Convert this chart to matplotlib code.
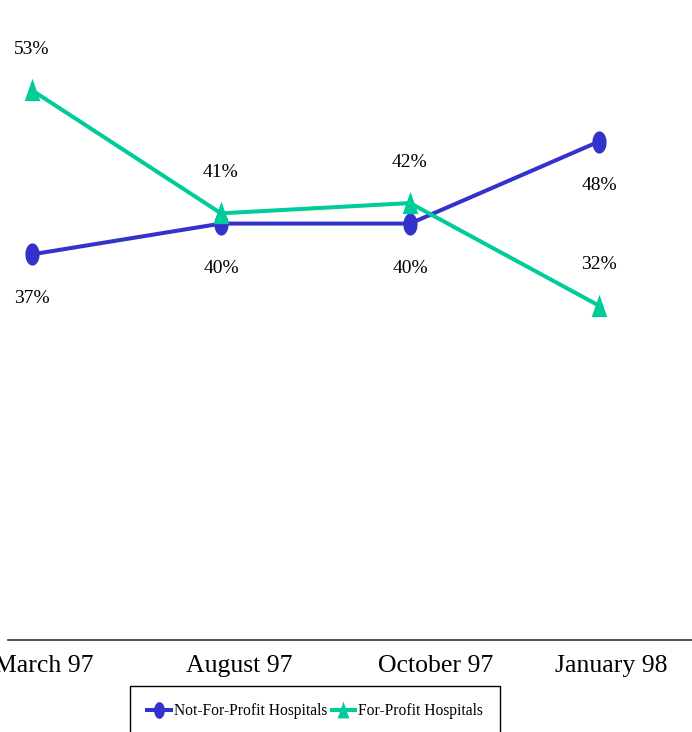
import numpy as np
import matplotlib.pyplot as plt
from matplotlib import transforms

# ---- data ----------------------------------------------------------------
periods = ["March 97", "August 97", "October 97", "January 98"]
not_for_profit = [37, 40, 40, 48]
for_profit = [53, 41, 42, 32]

BLUE = "#3333cc"
GREEN = "#00cc99"
INK = "#000000"
SERIF = ["Liberation Serif", "DejaVu Serif"]

plt.rcParams.update({
    "font.family": SERIF,
    "text.color": INK,
})

# tall ellipse and tall triangle markers
t = np.linspace(0, 2 * np.pi, 40)
ELLIPSE = list(zip(0.32 * np.cos(t), 0.5 * np.sin(t)))
TRIANGLE = [(-0.33, -0.45), (0.33, -0.45), (0.0, 0.5), (-0.33, -0.45)]

fig = plt.figure(figsize=(6.92, 7.32), dpi=100)
ax = fig.add_axes([8 / 692, 92 / 732, 1 - 8 / 692, 640 / 732])

x = np.arange(len(periods))
ax.plot(x, not_for_profit, color=BLUE, lw=2.9, marker=ELLIPSE,
        markersize=16, markeredgewidth=0, label="Not-For-Profit Hospitals",
        zorder=3)
ax.plot(x, for_profit, color=GREEN, lw=2.9, marker=TRIANGLE,
        markersize=17, markeredgewidth=0, label="For-Profit Hospitals",
        zorder=4)

for xi, v in zip(x, not_for_profit):
    ax.annotate(f"{v}%", xy=(xi, v), xytext=(0, -32), textcoords="offset points",
                ha="center", va="center", fontsize=14, annotation_clip=False)
for xi, v in zip(x, for_profit):
    ax.annotate(f"{v}%", xy=(xi, v), xytext=(0, 29.5), textcoords="offset points",
                ha="center", va="center", fontsize=14, annotation_clip=False)

ax.set_xlim(-24 / 189, (692 - 32) / 189)
ax.set_ylim(-0.6, 61.8)
ax.set_xticks(x)
ax.set_xticklabels(periods, fontsize=18.5)
ax.tick_params(axis="x", length=0, pad=11)
ax.set_yticks([])
for s in ("top", "right", "left"):
    ax.spines[s].set_visible(False)
ax.spines["bottom"].set_color("#333333")
ax.spines["bottom"].set_linewidth(1.2)

# tick labels sit a little right of the points
for lab, dx in zip(ax.get_xticklabels(), [12, 18, 26, 12]):
    shift = transforms.ScaledTranslation(dx / 100, 0, fig.dpi_scale_trans)
    lab.set_transform(lab.get_transform() + shift)

leg = fig.legend(loc="upper center", bbox_to_anchor=(315 / 692, 1 - 686 / 732),
                 ncol=2, fontsize=11.2, frameon=True, fancybox=False,
                 edgecolor=INK, framealpha=1, handlelength=1.5,
                 handletextpad=0.2, columnspacing=0.3, borderpad=1.1,
                 borderaxespad=0, markerscale=0.75)
leg.get_frame().set_linewidth(1.0)

fig.savefig("out.png", dpi=100)
